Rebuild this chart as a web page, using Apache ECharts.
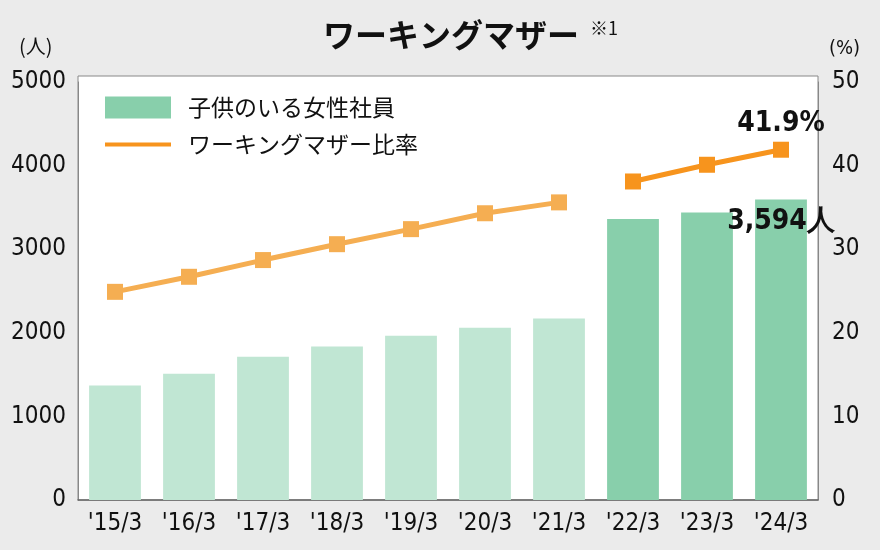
<!DOCTYPE html>
<html><head><meta charset="utf-8">
<script src="https://cdn.jsdelivr.net/npm/echarts@6/dist/echarts.min.js"></script>
<style>html,body{margin:0;padding:0;background:#ebebeb}#c{width:880px;height:550px}</style>
</head><body><div id="c"></div>
<script>
const categories = ["'15/3","'16/3","'17/3","'18/3","'19/3","'20/3","'21/3","'22/3","'23/3","'24/3"];
const employees = [1370, 1510, 1715, 1835, 1965, 2060, 2170, 3360, 3440, 3594];
const ratioOld = [24.9, 26.7, 28.7, 30.6, 32.4, 34.3, 35.6, null, null, null];
const ratioNew = [null, null, null, null, null, null, null, 38.1, 40.1, 41.9];
const leftTicks = [0, 1000, 2000, 3000, 4000, 5000];
const rightTicks = [0, 10, 20, 30, 40, 50];
const newStart = 7;

const NUM = "'Liberation Sans Narrow','DejaVu Sans Condensed','Noto Sans',sans-serif";
const JP = "'Noto Sans CJK JP','Noto Sans',sans-serif";
const chart = echarts.init(document.getElementById('c'));
const last = employees.length - 1;
chart.setOption({
  backgroundColor: '#ebebeb',
  animation: false,
  title: [{
    text: 'ワーキングマザー', left: 318, top: 14,
    textStyle: {fontFamily: JP, fontSize: 32, fontWeight: 'bold', color: '#111'}
  }, {
    text: '※1', left: 585, top: 14,
    textStyle: {fontFamily: JP, fontSize: 18, fontWeight: 'normal', color: '#111'}
  }],
  graphic: [
    {type: 'rect', z: -1, shape: {x: 78, y: 76, width: 740, height: 424}, style: {fill: '#fff', stroke: '#888', lineWidth: 1}},
    {type: 'text', left: 19, top: 36, style: {text: '(人)', font: '20px ' + JP, fill: '#111'}},
    {type: 'text', left: 829, top: 39, style: {text: '(%)', font: '20px ' + NUM, fill: '#111'}}
  ],
  legend: {
    left: 100, top: 91, orient: 'vertical', itemGap: 14, itemWidth: 66, itemHeight: 22,
    textStyle: {fontFamily: JP, fontSize: 23, color: '#111', padding: [0, 0, 0, 12]},
    data: [
      {name: '子供のいる女性社員', icon: 'rect', itemStyle: {color: '#88cfab'}},
      {name: 'ワーキングマザー比率', icon: 'path://M0,9h66v4h-66z', itemStyle: {color: '#f7941d'}}
    ]
  },
  grid: {left: 78, right: 62, top: 82, bottom: 50, containLabel: false},
  xAxis: {
    type: 'category', data: categories,
    axisLine: {lineStyle: {color: '#666', width: 1.5}},
    axisTick: {show: false},
    axisLabel: {fontFamily: NUM, fontSize: 24, color: '#111', margin: 12}
  },
  yAxis: [{
    type: 'value', min: 0, max: 5000, interval: 1000,
    axisLine: {show: true, lineStyle: {color: '#888'}}, axisTick: {show: false}, splitLine: {show: false},
    axisLabel: {fontFamily: NUM, fontSize: 24, color: '#111', margin: 12,
      formatter: v => leftTicks.includes(v) ? String(v) : ''}
  }, {
    type: 'value', min: 0, max: 50, interval: 10, position: 'right',
    axisLine: {show: true, lineStyle: {color: '#888'}}, axisTick: {show: false}, splitLine: {show: false},
    axisLabel: {fontFamily: NUM, fontSize: 24, color: '#111', margin: 14,
      formatter: v => rightTicks.includes(v) ? String(v) : ''}
  }],
  series: [{
    name: '子供のいる女性社員', type: 'bar', barWidth: '70%', itemStyle: {color: '#88cfab'},
    data: employees.map((v, i) => ({
      value: v,
      itemStyle: {color: i >= newStart ? '#88cfab' : '#c0e6d3'},
      label: i === last ? {show: true, position: 'insideTop', distance: 8,
        formatter: p => p.value.toLocaleString('en-US') + '人',
        fontFamily: NUM, fontSize: 28, fontWeight: 'bold', color: '#111'} : {show: false}
    }))
  }, {
    name: 'ワーキングマザー比率', type: 'line', yAxisIndex: 1, data: ratioOld,
    symbol: 'rect', symbolSize: 16, lineStyle: {color: '#f5ae52', width: 5},
    itemStyle: {color: '#f5ae52'}, connectNulls: false
  }, {
    name: 'ワーキングマザー比率', type: 'line', yAxisIndex: 1,
    data: ratioNew.map((v, i) => i === last ? {value: v, label: {show: true, position: 'top', distance: 4,
      formatter: p => p.value + '%', fontFamily: NUM, fontSize: 28, fontWeight: 'bold', color: '#111'}} : v),
    symbol: 'rect', symbolSize: 16, lineStyle: {color: '#f7941d', width: 5},
    itemStyle: {color: '#f7941d'}
  }]
});
</script></body></html>
